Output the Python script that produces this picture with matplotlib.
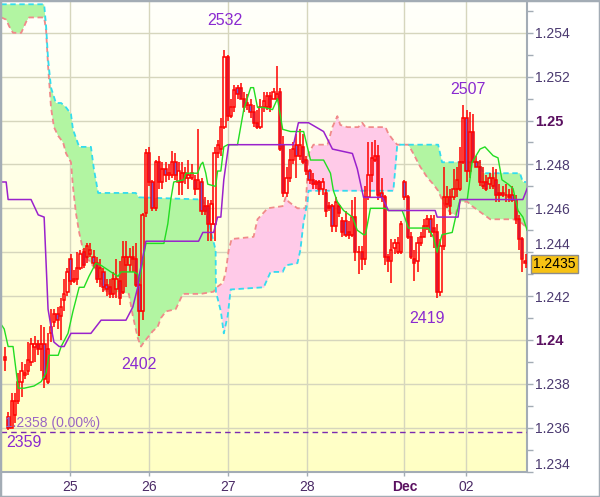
import numpy as np
import matplotlib
matplotlib.use("Agg")
import matplotlib.pyplot as plt
from matplotlib.colors import LinearSegmentedColormap
from matplotlib.patches import Rectangle

plt.rcParams['font.family'] = ['Liberation Sans', 'DejaVu Sans']

# ---------------- data (hourly candles, x = bar index) ----------------
opens = [1.2392, 1.2365, 1.2360, 1.2366, 1.2372, 1.2381, 1.2384, 1.2386, 1.2390, 1.2397,
         1.2398, 1.2396, 1.2398, 1.2381, 1.2403, 1.2408, 1.2412, 1.2411, 1.2418, 1.2422,
         1.2437, 1.2427, 1.2428, 1.2433, 1.2440, 1.2438, 1.2439, 1.2438, 1.2435, 1.2428,
         1.2431, 1.2425, 1.2424, 1.2421, 1.2423, 1.2427, 1.2422, 1.2434, 1.2434, 1.2438,
         1.2437, 1.2425, 1.2413, 1.2458, 1.2485, 1.2472, 1.2460, 1.2481, 1.2472, 1.2478,
         1.2475, 1.2475, 1.2481, 1.2472, 1.2472, 1.2474, 1.2474, 1.2474, 1.2473, 1.2469,
         1.2472, 1.2461, 1.2461, 1.2453, 1.2453, 1.2485, 1.2487, 1.2497, 1.2529, 1.2502,
         1.2506, 1.2515, 1.2515, 1.2510, 1.2507, 1.2507, 1.2504, 1.2499, 1.2497, 1.2506,
         1.2506, 1.2511, 1.2510, 1.2510, 1.2513, 1.2489, 1.2467, 1.2474, 1.2482, 1.2489,
         1.2484, 1.2488, 1.2482, 1.2477, 1.2473, 1.2471, 1.2472, 1.2469, 1.2467, 1.2461,
         1.2461, 1.2452, 1.2461, 1.2454, 1.2454, 1.2449, 1.2448, 1.2456, 1.2440, 1.2440,
         1.2437, 1.2465, 1.2475, 1.2482, 1.2484, 1.2467, 1.2465, 1.2438, 1.2436, 1.2442,
         1.2440, 1.2440, 1.2472, 1.2465, 1.2447, 1.2437, 1.2436, 1.2444, 1.2447, 1.2452,
         1.2455, 1.2451, 1.2449, 1.2422, 1.2443, 1.2462, 1.2465, 1.2465, 1.2469, 1.2469,
         1.2481, 1.2501, 1.2477, 1.2495, 1.2481, 1.2479, 1.2470, 1.2472, 1.2471, 1.2470,
         1.2473, 1.2467, 1.2467, 1.2466, 1.2466, 1.2466, 1.2464, 1.2455, 1.2446, 1.2436]
highs = [1.2397, 1.2367, 1.2376, 1.2376, 1.2385, 1.2390, 1.2389, 1.2399, 1.2401, 1.2402,
         1.2400, 1.2407, 1.2406, 1.2403, 1.2414, 1.2414, 1.2415, 1.2419, 1.2428, 1.2433,
         1.2439, 1.2432, 1.2440, 1.2441, 1.2442, 1.2444, 1.2444, 1.2441, 1.2438, 1.2437,
         1.2433, 1.2428, 1.2428, 1.2431, 1.2437, 1.2436, 1.2445, 1.2445, 1.2442, 1.2443,
         1.2444, 1.2426, 1.2458, 1.2487, 1.2488, 1.2473, 1.2482, 1.2484, 1.2481, 1.2481,
         1.2480, 1.2486, 1.2485, 1.2481, 1.2481, 1.2479, 1.2482, 1.2480, 1.2475, 1.2496,
         1.2474, 1.2465, 1.2464, 1.2464, 1.2488, 1.2491, 1.2501, 1.2532, 1.2530, 1.2510,
         1.2516, 1.2516, 1.2517, 1.2513, 1.2512, 1.2510, 1.2507, 1.2505, 1.2510, 1.2513,
         1.2513, 1.2513, 1.2515, 1.2525, 1.2515, 1.2493, 1.2479, 1.2487, 1.2490, 1.2494,
         1.2496, 1.2494, 1.2484, 1.2478, 1.2476, 1.2473, 1.2473, 1.2474, 1.2469, 1.2463,
         1.2462, 1.2465, 1.2462, 1.2456, 1.2459, 1.2454, 1.2464, 1.2465, 1.2443, 1.2443,
         1.2470, 1.2490, 1.2490, 1.2491, 1.2489, 1.2474, 1.2466, 1.2439, 1.2446, 1.2446,
         1.2447, 1.2454, 1.2473, 1.2466, 1.2449, 1.2441, 1.2447, 1.2449, 1.2455, 1.2457,
         1.2457, 1.2457, 1.2453, 1.2446, 1.2479, 1.2470, 1.2469, 1.2478, 1.2479, 1.2488,
         1.2507, 1.2505, 1.2504, 1.2503, 1.2484, 1.2482, 1.2479, 1.2475, 1.2476, 1.2479,
         1.2478, 1.2471, 1.2470, 1.2471, 1.2469, 1.2470, 1.2466, 1.2457, 1.2447, 1.2439]
lows = [1.2386, 1.2359, 1.2360, 1.2362, 1.2371, 1.2374, 1.2382, 1.2384, 1.2388, 1.2390,
        1.2393, 1.2386, 1.2378, 1.2380, 1.2399, 1.2406, 1.2405, 1.2400, 1.2413, 1.2420,
        1.2425, 1.2426, 1.2425, 1.2432, 1.2433, 1.2435, 1.2438, 1.2433, 1.2426, 1.2424,
        1.2422, 1.2420, 1.2419, 1.2419, 1.2419, 1.2416, 1.2421, 1.2424, 1.2431, 1.2431,
        1.2424, 1.2402, 1.2409, 1.2456, 1.2470, 1.2459, 1.2459, 1.2469, 1.2469, 1.2472,
        1.2473, 1.2474, 1.2473, 1.2466, 1.2466, 1.2471, 1.2469, 1.2473, 1.2466, 1.2469,
        1.2457, 1.2457, 1.2445, 1.2445, 1.2445, 1.2483, 1.2484, 1.2496, 1.2500, 1.2501,
        1.2504, 1.2510, 1.2510, 1.2504, 1.2505, 1.2501, 1.2497, 1.2496, 1.2496, 1.2504,
        1.2505, 1.2504, 1.2510, 1.2509, 1.2486, 1.2465, 1.2465, 1.2472, 1.2480, 1.2474,
        1.2482, 1.2480, 1.2475, 1.2471, 1.2469, 1.2469, 1.2466, 1.2466, 1.2456, 1.2459,
        1.2449, 1.2449, 1.2456, 1.2447, 1.2447, 1.2446, 1.2447, 1.2436, 1.2430, 1.2432,
        1.2434, 1.2464, 1.2472, 1.2481, 1.2464, 1.2463, 1.2434, 1.2431, 1.2426, 1.2439,
        1.2439, 1.2439, 1.2464, 1.2446, 1.2437, 1.2427, 1.2431, 1.2443, 1.2447, 1.2450,
        1.2447, 1.2442, 1.2419, 1.2420, 1.2441, 1.2460, 1.2457, 1.2464, 1.2465, 1.2468,
        1.2480, 1.2472, 1.2474, 1.2481, 1.2479, 1.2470, 1.2469, 1.2468, 1.2469, 1.2469,
        1.2463, 1.2463, 1.2465, 1.2463, 1.2463, 1.2463, 1.2453, 1.2441, 1.2431, 1.2433]
closes = [1.2391, 1.2360, 1.2372, 1.2372, 1.2381, 1.2386, 1.2385, 1.2391, 1.2398, 1.2398,
          1.2396, 1.2398, 1.2382, 1.2396, 1.2406, 1.2412, 1.2409, 1.2415, 1.2421, 1.2431,
          1.2427, 1.2428, 1.2433, 1.2439, 1.2434, 1.2443, 1.2441, 1.2435, 1.2428, 1.2433,
          1.2424, 1.2423, 1.2421, 1.2428, 1.2428, 1.2419, 1.2438, 1.2438, 1.2438, 1.2437,
          1.2425, 1.2413, 1.2457, 1.2485, 1.2472, 1.2460, 1.2481, 1.2472, 1.2478, 1.2475,
          1.2476, 1.2481, 1.2475, 1.2477, 1.2476, 1.2476, 1.2475, 1.2476, 1.2469, 1.2473,
          1.2459, 1.2459, 1.2453, 1.2462, 1.2485, 1.2489, 1.2497, 1.2529, 1.2502, 1.2506,
          1.2514, 1.2512, 1.2510, 1.2506, 1.2508, 1.2504, 1.2499, 1.2497, 1.2506, 1.2509,
          1.2511, 1.2506, 1.2513, 1.2512, 1.2487, 1.2467, 1.2474, 1.2482, 1.2487, 1.2484,
          1.2489, 1.2481, 1.2477, 1.2473, 1.2471, 1.2472, 1.2469, 1.2472, 1.2459, 1.2460,
          1.2452, 1.2463, 1.2458, 1.2449, 1.2448, 1.2448, 1.2456, 1.2440, 1.2440, 1.2437,
          1.2465, 1.2475, 1.2483, 1.2484, 1.2466, 1.2465, 1.2438, 1.2436, 1.2441, 1.2444,
          1.2444, 1.2453, 1.2465, 1.2447, 1.2438, 1.2435, 1.2444, 1.2447, 1.2452, 1.2455,
          1.2449, 1.2449, 1.2422, 1.2443, 1.2465, 1.2465, 1.2461, 1.2469, 1.2473, 1.2481,
          1.2501, 1.2477, 1.2495, 1.2481, 1.2479, 1.2472, 1.2472, 1.2469, 1.2474, 1.2474,
          1.2466, 1.2466, 1.2466, 1.2466, 1.2465, 1.2464, 1.2455, 1.2446, 1.2437, 1.2435]

# Ichimoku lines (vertices: bar index, price)
tenkan_x = [-1.2, -0.3, 0.9, 2.4, 4.0, 5.8, 8.8, 11.0, 12.5, 13.4,
            16.2, 17.1, 19.2, 20.7, 22.6, 24.1, 25.6, 27.7, 29.3, 32.3,
            34.5, 35.4, 39.3, 40.5, 40.9, 43.0, 48.5, 49.7, 50.6, 51.5,
            54.6, 55.2, 58.8, 59.8, 60.4, 61.3, 61.9, 64.3, 64.9, 65.9,
            66.8, 68.0, 71.0, 72.9, 75.0, 75.9, 77.1, 79.0, 81.7, 83.2,
            84.8, 87.2, 91.2, 93.3, 97.3, 99.4, 100.3, 101.5, 103.4, 106.1,
            107.6, 109.5, 110.1, 111.6, 116.2, 117.1, 121.3, 122.3, 123.2, 129.3,
            130.8, 132.0, 133.5, 136.6, 137.5, 139.0, 141.2, 142.7, 145.1, 146.6,
            149.1, 150.6, 151.8, 153.7, 155.2, 156.7, 158.2, 159.5]
tenkan_y = [1.2407, 1.2405, 1.2397, 1.2397, 1.2378, 1.2378, 1.2379, 1.2381, 1.2385, 1.2393,
            1.2393, 1.2397, 1.2403, 1.2413, 1.2424, 1.2424, 1.2429, 1.2435, 1.2434, 1.2431,
            1.2429, 1.2431, 1.2431, 1.2430, 1.2426, 1.2444, 1.2444, 1.2453, 1.2464, 1.2472,
            1.2473, 1.2476, 1.2476, 1.2480, 1.2481, 1.2476, 1.2471, 1.2470, 1.2477, 1.2477,
            1.2488, 1.2489, 1.2489, 1.2505, 1.2515, 1.2515, 1.2506, 1.2506, 1.2505, 1.2510,
            1.2496, 1.2495, 1.2495, 1.2482, 1.2482, 1.2476, 1.2468, 1.2463, 1.2459, 1.2456,
            1.2450, 1.2448, 1.2448, 1.2460, 1.2460, 1.2459, 1.2459, 1.2455, 1.2451, 1.2451,
            1.2447, 1.2440, 1.2448, 1.2449, 1.2455, 1.2464, 1.2464, 1.2481, 1.2487, 1.2488,
            1.2484, 1.2483, 1.2473, 1.2471, 1.2469, 1.2459, 1.2456, 1.2450]
kijun_x = [-1.2, 0.3, 0.9, 7.9, 10.1, 11.9, 13.1, 14.0, 14.9, 16.5,
           18.0, 20.1, 26.2, 29.3, 36.9, 39.0, 40.5, 40.9, 43.0, 59.1,
           60.4, 63.7, 64.9, 65.9, 66.8, 68.3, 88.1, 89.6, 92.7, 97.3,
           100.0, 106.1, 107.6, 109.5, 115.2, 117.1, 131.4, 132.0, 138.4, 139.0,
           158.2, 159.5]
kijun_y = [1.2472, 1.2472, 1.2464, 1.2464, 1.2457, 1.2456, 1.2414, 1.2406, 1.2399, 1.2397,
           1.2397, 1.2403, 1.2403, 1.2409, 1.2409, 1.2415, 1.2424, 1.2429, 1.2445, 1.2445,
           1.2449, 1.2449, 1.2456, 1.2456, 1.2473, 1.2489, 1.2489, 1.2499, 1.2499, 1.2495,
           1.2487, 1.2485, 1.2478, 1.2465, 1.2465, 1.2459, 1.2459, 1.2456, 1.2456, 1.2464,
           1.2464, 1.2469]
span_a_x = [-1.2, 0.3, 1.2, 2.4, 3.4, 4.9, 6.4, 7.3, 11.9, 12.5,
            13.1, 14.0, 14.9, 16.2, 17.7, 18.6, 20.1, 20.7, 21.6, 22.6,
            23.8, 24.7, 27.7, 29.9, 32.9, 34.8, 37.8, 39.0, 40.5, 41.5,
            42.4, 45.1, 46.6, 47.6, 49.1, 52.1, 54.3, 59.8, 63.7, 64.6,
            66.5, 67.4, 68.3, 69.2, 75.9, 77.1, 80.2, 84.8, 85.7, 86.6,
            89.3, 91.8, 92.7, 94.2, 98.5, 100.0, 101.5, 102.4, 104.6, 107.9,
            109.1, 110.1, 114.6, 116.2, 117.1, 118.6, 119.8, 123.2, 124.7, 126.8,
            129.0, 130.8, 132.3, 133.5, 134.5, 136.0, 137.5, 139.0, 141.2, 142.7,
            147.3, 148.2, 153.4, 155.2, 157.3, 159.5]
span_a_y = [1.2547, 1.2546, 1.2543, 1.2540, 1.2540, 1.2540, 1.2545, 1.2547, 1.2547, 1.2541,
            1.2525, 1.2506, 1.2497, 1.2493, 1.2490, 1.2485, 1.2481, 1.2470, 1.2458, 1.2449,
            1.2441, 1.2438, 1.2432, 1.2423, 1.2421, 1.2422, 1.2421, 1.2411, 1.2401, 1.2397,
            1.2399, 1.2404, 1.2406, 1.2410, 1.2413, 1.2414, 1.2421, 1.2421, 1.2422, 1.2424,
            1.2426, 1.2431, 1.2441, 1.2446, 1.2447, 1.2455, 1.2460, 1.2461, 1.2465, 1.2463,
            1.2460, 1.2460, 1.2485, 1.2489, 1.2489, 1.2497, 1.2502, 1.2498, 1.2497, 1.2497,
            1.2499, 1.2497, 1.2497, 1.2497, 1.2494, 1.2491, 1.2489, 1.2489, 1.2485, 1.2479,
            1.2474, 1.2471, 1.2468, 1.2464, 1.2461, 1.2458, 1.2457, 1.2463, 1.2463, 1.2461,
            1.2456, 1.2455, 1.2455, 1.2455, 1.2454, 1.2451]
span_b_x = [-1.2, 11.9, 12.5, 13.1, 14.0, 15.5, 17.1, 18.6, 20.1, 20.7,
            22.6, 26.2, 27.1, 28.4, 39.9, 40.9, 60.4, 64.3, 64.4, 65.9,
            66.8, 68.0, 68.9, 79.0, 81.1, 84.8, 85.7, 89.3, 90.2, 91.2,
            92.4, 92.7, 118.6, 119.2, 119.8, 132.3, 133.5, 145.1, 146.0, 157.3,
            158.2, 159.5]
span_b_y = [1.2553, 1.2553, 1.2543, 1.2528, 1.2515, 1.2508, 1.2508, 1.2506, 1.2503, 1.2496,
            1.2488, 1.2488, 1.2478, 1.2467, 1.2467, 1.2465, 1.2464, 1.2441, 1.2422, 1.2413,
            1.2403, 1.2411, 1.2423, 1.2424, 1.2431, 1.2431, 1.2434, 1.2435, 1.2441, 1.2454,
            1.2463, 1.2468, 1.2468, 1.2478, 1.2489, 1.2489, 1.2481, 1.2481, 1.2476, 1.2476,
            1.2472, 1.2472]

day_ticks = [19.8, 43.9, 68.0, 92.1, 122.0, 140.9]
day_labels = ['25', '26', '27', '28', 'Dec', '02']
price_ticks = [1.234, 1.236, 1.238, 1.240, 1.242, 1.244, 1.246, 1.248, 1.250, 1.252, 1.254]
price_labels = ['1.234', '1.236', '1.238', '1.24', '1.242', '1.244', '1.246', '1.248', '1.25', '1.252', '1.254']
ref_level = 1.2358
high_marks = [67, 140]
low_marks = [1, 41, 132]

# ---------------- figure ----------------
fig = plt.figure(figsize=(6.0, 4.97), dpi=100)
fig.patch.set_facecolor('white')
ax = fig.add_axes([0.002, 0.0503, 0.8763, 0.9477])

XMIN, XMAX = -1.22, 159.45
YMIN, YMAX = 1.23398, 1.25545

bg = LinearSegmentedColormap.from_list('bg', ['#fffffb', '#ffffc4'])
ax.imshow(np.linspace(0, 1, 256).reshape(-1, 1), cmap=bg, aspect='auto',
          extent=[0, 1, 0, 1], transform=ax.transAxes, zorder=0, origin='upper')

# cloud
xs = np.union1d(span_a_x, span_b_x)
ya = np.interp(xs, span_a_x, span_a_y)
yb = np.interp(xs, span_b_x, span_b_y)
ax.fill_between(xs, ya, yb, where=yb >= ya, interpolate=True, color='#b2f5a2', lw=0, zorder=1)
ax.fill_between(xs, ya, yb, where=ya > yb, interpolate=True, color='#ffcae8', lw=0, zorder=1)
ax.plot(span_a_x, span_a_y, color='#f08a8a', lw=1.3, ls=(0, (3, 2)), zorder=2)
ax.plot(span_b_x, span_b_y, color='#33dcee', lw=1.3, ls=(0, (3, 2)), zorder=2)

# candles
o = np.array(opens); h = np.array(highs); l = np.array(lows); c = np.array(closes)
x = np.arange(len(c))
up = c > o
top = np.maximum(o, c); bot = np.minimum(o, c)
ax.vlines(x, top, h, color='#ff0000', lw=1.1, zorder=3)
ax.vlines(x, l, bot, color='#ff0000', lw=1.1, zorder=3)
hgt = np.maximum(top - bot, 0.00002)
ax.bar(x[up], hgt[up], bottom=bot[up], width=0.7, facecolor='none',
       edgecolor='#ff0000', lw=1.1, zorder=3)
ax.bar(x[~up], hgt[~up], bottom=bot[~up], width=0.7, facecolor='#7a5ccc',
       edgecolor='#ff0000', lw=1.1, zorder=3)

# tenkan / kijun
ax.plot(tenkan_x, tenkan_y, color='#22dd22', lw=1.0, zorder=4)
ax.plot(kijun_x, kijun_y, color='#9a22cc', lw=1.1, zorder=5)

# reference level
ax.axhline(ref_level, color='#7a2ab0', lw=1.0, ls=(0, (4, 3)), zorder=4)
ax.annotate(f"{ref_level:.4f} (0.00%)", xy=(0.008, ref_level), xycoords=('axes fraction', 'data'),
            xytext=(0, 6.5), textcoords='offset points', ha='left', va='center',
            fontsize=10, color='#9a66c4', zorder=6)

def pip(v):
    return f"{int(round(v * 10000)) % 10000:04d}"

lab_col = '#8a2ad0'
hi_off = {67: (0, 21.5), 140: (3.5, 11)}
for i in high_marks:
    ax.annotate(pip(highs[i]), xy=(i, highs[i]), xytext=hi_off[i], textcoords='offset points',
                ha='center', va='center', fontsize=11.5, color=lab_col, zorder=6)
lo_off = {1: (11, -9), 41: (0, -21), 132: (-7, -14.5)}
for i in low_marks:
    ax.annotate(pip(lows[i]), xy=(i, lows[i]), xytext=lo_off[i], textcoords='offset points',
                ha='center', va='center', fontsize=11.5, color=lab_col, zorder=6)

# axes styling
ax.set_xlim(XMIN, XMAX)
ax.set_ylim(YMIN, YMAX)
for s in ['left', 'top']:
    ax.spines[s].set_visible(False)
for s in ['right', 'bottom']:
    ax.spines[s].set_color('#a3acb5')
    ax.spines[s].set_linewidth(1.5)

ax.yaxis.tick_right()
ax.set_yticks(price_ticks)
ax.set_yticklabels(price_labels)
ax.set_yticks(np.arange(1.235, 1.2551, 0.002), minor=True)
ax.tick_params(axis='y', which='both', direction='out', length=4, width=1, color='#a3acb5',
               labelsize=10, labelcolor='#4b3a70', pad=2)
for t in ax.get_yticklabels():
    if t.get_text() in ('1.25', '1.24'):
        t.set_fontweight('bold')
        t.set_color('#5a1060')
        t.set_fontsize(10.5)
    if t.get_text() == '1.234':
        t.set_va('bottom')
    if t.get_text() == '1.244':
        t.set_va('bottom')

ax.set_xticks(day_ticks)
ax.set_xticklabels(day_labels)
ax.tick_params(axis='x', direction='out', length=3, width=1, color='#a3acb5',
               labelsize=10, labelcolor='#4b2a66', pad=3)
for t in ax.get_xticklabels():
    if t.get_text() == 'Dec':
        t.set_fontweight('bold')
        t.set_color('#5a1060')

ax.set_axisbelow(True)
ax.grid(True, which='major', color='#d6d6bd', lw=1.0)

# last price box
ax.annotate(f"{closes[-1]:.4f}", xy=(1, closes[-1]), xycoords=('axes fraction', 'data'),
            xytext=(4.5, -0.5), textcoords='offset points', ha='left', va='center',
            fontsize=10, color='black', zorder=10, annotation_clip=False,
            bbox=dict(boxstyle='square,pad=0.15', facecolor='#f7c214', edgecolor='#8c8c8c', lw=1))

fig.patches.append(Rectangle((0, 0), 1, 1, transform=fig.transFigure, fill=False,
                             edgecolor='#a3acb5', lw=2.5, zorder=20))

fig.savefig('out.png', dpi=100)
